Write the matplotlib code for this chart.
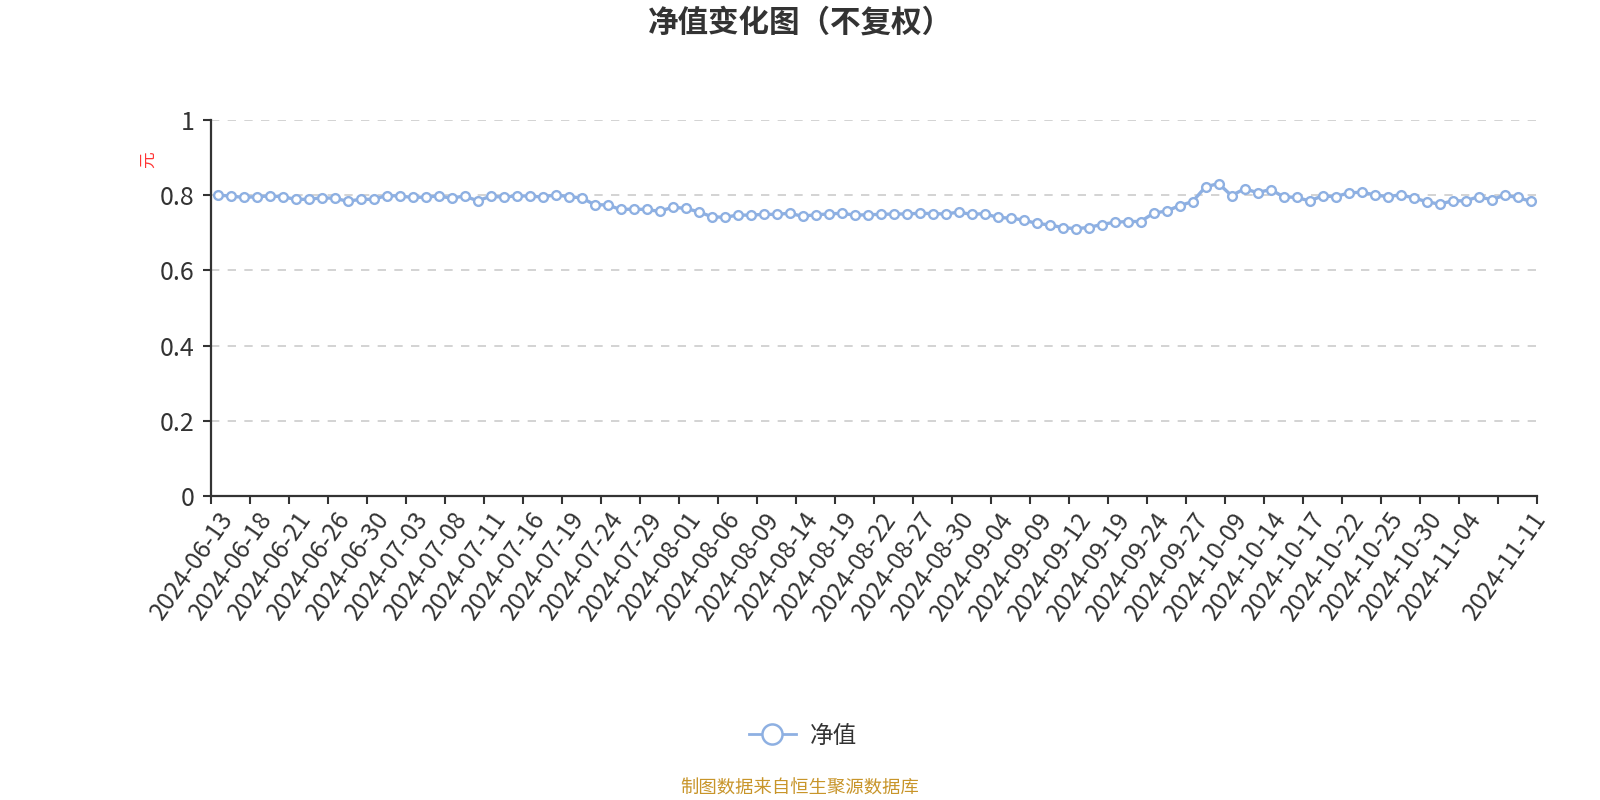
import matplotlib
matplotlib.use("Agg")
import matplotlib.pyplot as plt
import numpy as np

plt.rcParams['font.family'] = ['Noto Sans CJK SC', 'DejaVu Sans']

dates = (
    ["2024-06-%02d" % d for d in [13, 14, 17, 18, 19, 20, 21, 24, 25, 26, 27, 28, 30]]
    + ["2024-07-%02d" % d for d in [1, 2, 3, 4, 5, 8, 9, 10, 11, 12, 15, 16, 17, 18, 19, 22, 23, 24, 25, 26, 29, 30, 31]]
    + ["2024-08-%02d" % d for d in [1, 2, 5, 6, 7, 8, 9, 12, 13, 14, 15, 16, 19, 20, 21, 22, 23, 26, 27, 28, 29, 30]]
    + ["2024-09-%02d" % d for d in [2, 3, 4, 5, 6, 9, 10, 11, 12, 13, 18, 19, 20, 23, 24, 25, 26, 27, 30]]
    + ["2024-10-%02d" % d for d in [8, 9, 10, 11, 14, 15, 16, 17, 18, 21, 22, 23, 24, 25, 28, 29, 30, 31]]
    + ["2024-11-%02d" % d for d in [1, 4, 5, 6, 7, 8, 11]]
)

nav = [
    0.800, 0.798, 0.794, 0.796, 0.798, 0.796, 0.789, 0.789, 0.793, 0.792,
    0.784, 0.789, 0.789, 0.799, 0.798, 0.794, 0.795, 0.798, 0.792, 0.798,
    0.785, 0.797, 0.795, 0.798, 0.798, 0.795, 0.801, 0.796, 0.793, 0.775,
    0.774, 0.762, 0.763, 0.762, 0.757, 0.768, 0.765, 0.756, 0.743, 0.741,
    0.747, 0.747, 0.749, 0.749, 0.752, 0.744, 0.748, 0.750, 0.752, 0.747,
    0.748, 0.749, 0.750, 0.750, 0.752, 0.751, 0.750, 0.755, 0.749, 0.751,
    0.741, 0.739, 0.734, 0.725, 0.721, 0.714, 0.711, 0.714, 0.722, 0.728,
    0.730, 0.730, 0.752, 0.758, 0.772, 0.783, 0.822, 0.831, 0.799, 0.817,
    0.807, 0.815, 0.796, 0.794, 0.785, 0.798, 0.796, 0.806, 0.808, 0.801,
    0.796, 0.801, 0.793, 0.783, 0.776, 0.785, 0.785, 0.796, 0.788, 0.800,
    0.794, 0.784,
]

yticks = [0, 0.2, 0.4, 0.6, 0.8, 1]
ytick_labels = ["0", "0.2", "0.4", "0.6", "0.8", "1"]

title = "净值变化图（不复权）"
series_name = "净值"
unit = "元"
source = "制图数据来自恒生聚源数据库"

line_color = "#8eb0e2"
text_color = "#333333"

fig = plt.figure(figsize=(16, 8), dpi=100)
ax = fig.add_axes([211 / 1600, 1 - 496 / 800, (1537 - 211) / 1600, (496 - 120) / 800])

n = len(dates)
x = np.arange(n)
line, = ax.plot(x, nav, color=line_color, lw=2.4, marker="o", markersize=6.3,
                markerfacecolor="white", markeredgecolor=line_color, markeredgewidth=1.7,
                zorder=3, clip_on=False)

ax.set_xlim(-0.5, n - 0.5)
ax.set_ylim(0, 1)

# y axis
ax.set_yticks(yticks)
ax.set_yticklabels(ytick_labels, fontsize=18, color=text_color)
for v in yticks[1:]:
    ax.axhline(v, color="#cccccc", lw=1.2, ls=(0, (5, 5)), zorder=1)

# x axis: ticks at band boundaries every 3 categories, labels at band centres
tick_pos = [i - 0.5 for i in range(0, n, 3)] + [n - 0.5]
ax.set_xticks(tick_pos)
ax.set_xticklabels([])
label_idx = list(range(0, n - 3, 3)) + [n - 1]
ax.set_xticks(label_idx, minor=True)
ax.set_xticklabels([dates[i] for i in label_idx], minor=True, rotation=55,
                   ha="right", va="top", rotation_mode="anchor", fontsize=17.5, color=text_color)
ax.tick_params(axis="x", which="minor", length=0, pad=8)
ax.tick_params(axis="x", which="major", length=6, width=1.5, color=text_color)
ax.tick_params(axis="y", length=6, width=1.5, color=text_color, pad=6)

for s in ["top", "right"]:
    ax.spines[s].set_visible(False)
for s in ["left", "bottom"]:
    ax.spines[s].set_color(text_color)
    ax.spines[s].set_linewidth(1.6)

fig.text(800 / 1600, 1 - 23 / 800, title, ha="center", va="center", fontsize=22,
         fontweight="bold", color=text_color)
fig.text(148 / 1600, 1 - 160 / 800, unit, ha="center", va="center", fontsize=12,
         color="#ff3333", rotation=90)

leg = fig.legend([line], [series_name], loc="center", bbox_to_anchor=(803 / 1600, 1 - 736 / 800),
                 frameon=False, fontsize=17, handlelength=2.0, markerscale=2.3,
                 labelcolor=text_color, handletextpad=0.6)
for h in leg.legend_handles:
    h.set_linewidth(2)
    h.set_markeredgewidth(1.8)

fig.text(800 / 1600, 1 - 789 / 800, source, ha="center", va="center", fontsize=13.2,
         color="#c8952a")

fig.savefig("out.png", dpi=100)
